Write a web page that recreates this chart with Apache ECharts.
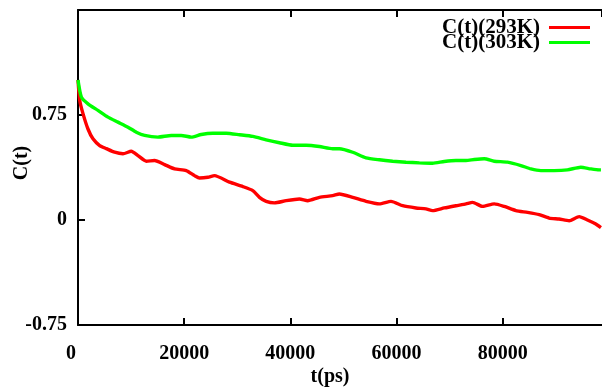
<!DOCTYPE html>
<html>
<head>
<meta charset="utf-8">
<script src="https://cdn.jsdelivr.net/npm/echarts@6/dist/echarts.min.js"></script>
<style>html,body{margin:0;padding:0;background:#fff}#c{width:602px;height:387px}</style>
</head>
<body>
<div id="c"></div>
<script>
var seriesNames = ['C(t)(293K)', 'C(t)(303K)'];
var xTicks = [0, 20000, 40000, 60000, 80000];
var yTicks = [-0.75, 0, 0.75];

var tRed = [0,320,940,1880,2820,4080,5340,6900,8470,10040,11290,12870,14430,16310,18190,20390,21950,22890,24460,25720,28540,31040,32920,34180,35440,37000,39200,41710,43270,45470,47970,49240,51740,54250,56760,58960,61150,63660,65540,66790,68990,71190,73080,74320,76200,78400,80280,82480,84670,86870,88750,90630,92510,94400,95960,97530,98500];
var cRed = [1.0,0.856,0.76,0.65,0.58,0.532,0.51,0.484,0.473,0.491,0.46,0.42,0.425,0.396,0.365,0.353,0.317,0.30,0.305,0.317,0.27,0.239,0.21,0.162,0.133,0.122,0.138,0.15,0.138,0.162,0.174,0.186,0.162,0.133,0.115,0.133,0.102,0.086,0.079,0.067,0.086,0.102,0.115,0.126,0.097,0.115,0.097,0.067,0.054,0.038,0.014,0.007,-0.005,0.024,0.0,-0.029,-0.055];

var tGreen = [0,640,1880,3760,5640,7520,9410,10980,12550,15050,17570,19450,21330,23210,25400,27920,30420,32920,35440,37940,40450,42960,45470,47970,49240,51740,54250,56760,59270,61780,64290,66790,68990,71190,73080,74630,76510,78400,80910,83420,85300,87180,89690,92190,94700,96580,98150,98500];
var cGreen = [1.0,0.878,0.83,0.783,0.735,0.699,0.663,0.627,0.604,0.592,0.604,0.604,0.592,0.611,0.62,0.62,0.609,0.597,0.573,0.552,0.534,0.534,0.525,0.509,0.509,0.484,0.444,0.43,0.42,0.413,0.408,0.405,0.418,0.425,0.425,0.432,0.437,0.42,0.413,0.389,0.365,0.353,0.353,0.358,0.377,0.365,0.358,0.358];

function zip(a, b) { return a.map(function (v, i) { return [v, b[i]]; }); }

var FONT = '"Liberation Serif", "DejaVu Serif", serif';
var XMAX = 98700;
var labelFont = {color: '#000', fontFamily: FONT, fontWeight: 'bold', fontSize: 20};
var chart = echarts.init(document.getElementById('c'), null, {renderer: 'canvas'});
chart.setOption({
  animation: false,
  backgroundColor: '#fff',
  grid: {left: 78, right: -1, top: 10, bottom: 62, containLabel: false},
  legend: [
    {data: [seriesNames[0]], orient: 'vertical', right: 7, top: 12, align: 'right',
     icon: 'rect', itemWidth: 41, itemHeight: 3,
     textStyle: {fontFamily: FONT, fontWeight: 'bold', fontSize: 21, color: '#000', padding: [0, 4, 0, 0]}},
    {data: [seriesNames[1]], orient: 'vertical', right: 7, top: 27, align: 'right',
     icon: 'rect', itemWidth: 41, itemHeight: 3,
     textStyle: {fontFamily: FONT, fontWeight: 'bold', fontSize: 21, color: '#000', padding: [0, 4, 0, 0]}}
  ],
  xAxis: [
    {type: 'value', min: 0, max: XMAX, interval: 20000, position: 'bottom',
     axisLine: {show: true, onZero: false, lineStyle: {color: '#000', width: 2}},
     axisTick: {show: true, inside: true, length: 7, lineStyle: {color: '#000', width: 2}},
     splitLine: {show: false},
     axisLabel: {margin: 19, color: '#000', fontFamily: FONT, fontWeight: 'bold', fontSize: 20,
       showMaxLabel: false,
       rich: {z: {color: '#000', fontFamily: FONT, fontWeight: 'bold', fontSize: 20, padding: [0, 14, 0, 0]}},
       formatter: function (v) {
         if (v === 0) return '{z|0}';
         return xTicks.indexOf(v) >= 0 ? String(v) : '';
       }}},
    {type: 'value', min: 0, max: XMAX, interval: 20000, position: 'top',
     axisLine: {show: true, onZero: false, lineStyle: {color: '#000', width: 2}},
     axisTick: {show: true, inside: true, length: 7, lineStyle: {color: '#000', width: 2}},
     splitLine: {show: false}, axisLabel: {show: false}}
  ],
  yAxis: {type: 'value', min: -0.75, max: 1.5, interval: 0.75,
    axisLine: {show: true, onZero: false, lineStyle: {color: '#000', width: 2}},
    axisTick: {show: true, inside: true, length: 7, lineStyle: {color: '#000', width: 2}},
    splitLine: {show: false},
    axisLabel: {margin: 11, color: '#000', fontFamily: FONT, fontWeight: 'bold', fontSize: 20,
      formatter: function (v) {
        for (var i = 0; i < yTicks.length; i++) if (Math.abs(yTicks[i] - v) < 1e-9) return String(yTicks[i]);
        return '';
      }}},
  graphic: [
    {type: 'text', x: 22, y: 163, rotation: Math.PI / 2,
     style: {text: 'C(t)', fontFamily: FONT, fontWeight: 'bold', fontSize: 20, fill: '#000', align: 'center', verticalAlign: 'middle'}},
    {type: 'text', x: 330, y: 377,
     style: {text: 't(ps)', fontFamily: FONT, fontWeight: 'bold', fontSize: 20, fill: '#000', align: 'center', verticalAlign: 'middle'}}
  ],
  series: [
    {name: seriesNames[0], type: 'line', xAxisIndex: 0, data: zip(tRed, cRed), showSymbol: false, smooth: 0.2,
     lineStyle: {color: '#ff0000', width: 3.4}, itemStyle: {color: '#ff0000'}},
    {name: seriesNames[1], type: 'line', xAxisIndex: 0, data: zip(tGreen, cGreen), showSymbol: false, smooth: 0.2,
     lineStyle: {color: '#00ff00', width: 3.4}, itemStyle: {color: '#00ff00'}}
  ]
});
</script>
</body>
</html>
